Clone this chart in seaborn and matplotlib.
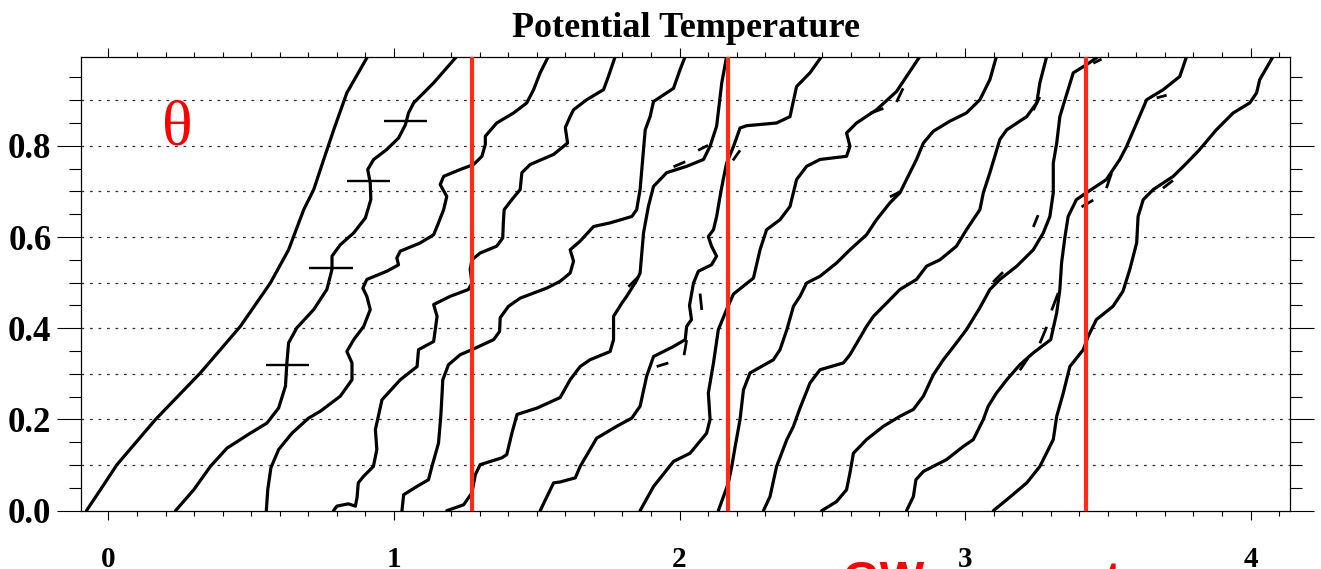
import matplotlib
matplotlib.use("Agg")
import matplotlib.pyplot as plt
import numpy as np
import pandas as pd
import seaborn as sns
from matplotlib.ticker import FixedLocator, MultipleLocator, FormatStrFormatter

# Potential temperature profiles, each as (theta offset, height) pairs
profile_01 = [(-0.077, 0.0), (-0.029, 0.045), (0.030, 0.101), (0.165, 0.200), (0.245, 0.252),
              (0.322, 0.302), (0.462, 0.404), (0.567, 0.499), (0.631, 0.572), (0.684, 0.660),
              (0.719, 0.704), (0.754, 0.770), (0.789, 0.835), (0.835, 0.916), (0.908, 0.996)]
profile_02 = [(0.235, 0.0), (0.299, 0.046), (0.357, 0.097), (0.415, 0.137), (0.497, 0.170),
              (0.555, 0.192), (0.596, 0.225), (0.620, 0.273), (0.625, 0.324), (0.631, 0.368),
              (0.660, 0.401), (0.719, 0.441), (0.765, 0.485), (0.783, 0.529), (0.783, 0.558),
              (0.812, 0.583), (0.859, 0.609), (0.900, 0.642), (0.919, 0.682), (0.917, 0.719),
              (0.908, 0.748), (0.929, 0.770), (0.975, 0.792), (1.016, 0.817), (1.040, 0.846),
              (1.051, 0.872), (1.069, 0.894), (1.139, 0.938), (1.220, 0.996)]
profile_03 = [(0.553, 0.0), (0.558, 0.046), (0.569, 0.094), (0.596, 0.134), (0.643, 0.170),
              (0.701, 0.203), (0.742, 0.218), (0.812, 0.251), (0.853, 0.287), (0.853, 0.324),
              (0.835, 0.349), (0.859, 0.375), (0.894, 0.404), (0.917, 0.441), (0.905, 0.470),
              (0.891, 0.488), (0.905, 0.507), (0.975, 0.525), (1.016, 0.539), (1.010, 0.554),
              (1.022, 0.569), (1.092, 0.587), (1.139, 0.605), (1.156, 0.631), (1.174, 0.660),
              (1.185, 0.689), (1.162, 0.715), (1.174, 0.733), (1.232, 0.748), (1.279, 0.759),
              (1.308, 0.777), (1.320, 0.803), (1.320, 0.821), (1.360, 0.850), (1.419, 0.872),
              (1.465, 0.894), (1.489, 0.923), (1.512, 0.960), (1.541, 0.996)]
profile_04 = [(0.788, 0.0), (0.800, 0.010), (0.840, 0.015), (0.865, 0.010), (0.871, 0.030),
              (0.875, 0.061), (0.893, 0.075), (0.928, 0.097), (0.940, 0.134), (0.935, 0.178),
              (0.958, 0.243), (1.022, 0.287), (1.081, 0.316), (1.086, 0.353), (1.139, 0.371),
              (1.151, 0.426), (1.139, 0.452), (1.197, 0.470), (1.261, 0.485), (1.273, 0.499),
              (1.267, 0.529), (1.273, 0.550), (1.302, 0.565), (1.360, 0.580), (1.381, 0.598),
              (1.383, 0.631), (1.386, 0.660), (1.413, 0.682), (1.442, 0.704), (1.448, 0.741),
              (1.477, 0.759), (1.559, 0.781), (1.608, 0.806), (1.600, 0.840), (1.617, 0.864),
              (1.629, 0.879), (1.675, 0.901), (1.734, 0.923), (1.751, 0.952), (1.775, 0.996)]
profile_05 = [(1.028, 0.0), (1.034, 0.035), (1.080, 0.053), (1.121, 0.068), (1.133, 0.097),
              (1.156, 0.148), (1.164, 0.207), (1.168, 0.251), (1.171, 0.287), (1.191, 0.320),
              (1.232, 0.342), (1.273, 0.353), (1.349, 0.375), (1.370, 0.393), (1.372, 0.423),
              (1.401, 0.448), (1.442, 0.466), (1.535, 0.488), (1.582, 0.503), (1.617, 0.521),
              (1.629, 0.547), (1.617, 0.572), (1.652, 0.591), (1.699, 0.623), (1.757, 0.631),
              (1.833, 0.645), (1.850, 0.660), (1.862, 0.704), (1.874, 0.792), (1.880, 0.835),
              (1.897, 0.864), (1.909, 0.897), (1.979, 0.926), (2.002, 0.967), (2.020, 0.996)]
profile_06 = [(1.185, 0.0), (1.244, 0.013), (1.273, 0.039), (1.285, 0.079), (1.302, 0.101),
              (1.378, 0.116), (1.395, 0.123), (1.413, 0.170), (1.431, 0.211), (1.501, 0.225),
              (1.582, 0.248), (1.617, 0.287), (1.652, 0.316), (1.687, 0.331), (1.757, 0.349),
              (1.769, 0.375), (1.769, 0.426), (1.798, 0.455), (1.815, 0.470), (1.850, 0.505),
              (1.862, 0.521), (1.874, 0.609), (1.891, 0.667), (1.909, 0.711), (1.955, 0.741),
              (2.025, 0.755), (2.084, 0.770), (2.107, 0.799), (2.130, 0.843), (2.148, 0.938),
              (2.165, 0.996)]
profile_07 = [(1.512, 0.0), (1.559, 0.061), (1.582, 0.063), (1.635, 0.072), (1.652, 0.097),
              (1.710, 0.159), (1.780, 0.185), (1.833, 0.203), (1.862, 0.229), (1.885, 0.295),
              (1.909, 0.338), (1.979, 0.360), (2.020, 0.375), (2.025, 0.404), (2.042, 0.419),
              (2.035, 0.450), (2.049, 0.499), (2.066, 0.525), (2.112, 0.539), (2.130, 0.558),
              (2.112, 0.580), (2.101, 0.601), (2.119, 0.616), (2.130, 0.645), (2.142, 0.689),
              (2.153, 0.726), (2.165, 0.762), (2.190, 0.800), (2.212, 0.839), (2.235, 0.844),
              (2.340, 0.850), (2.387, 0.864), (2.410, 0.930), (2.457, 0.960), (2.498, 0.996)]
profile_08 = [(1.862, 0.0), (1.909, 0.053), (1.979, 0.108), (2.037, 0.126), (2.095, 0.170),
              (2.107, 0.200), (2.101, 0.258), (2.119, 0.324), (2.136, 0.397), (2.165, 0.441),
              (2.189, 0.475), (2.259, 0.510), (2.282, 0.572), (2.305, 0.616), (2.352, 0.638),
              (2.387, 0.667), (2.410, 0.726), (2.445, 0.755), (2.492, 0.770), (2.585, 0.777),
              (2.597, 0.799), (2.585, 0.828), (2.620, 0.850), (2.690, 0.879), (2.760, 0.919),
              (2.795, 0.952), (2.842, 0.996)]
profile_09 = [(2.136, 0.0), (2.154, 0.031), (2.171, 0.061), (2.183, 0.097), (2.195, 0.141),
              (2.212, 0.200), (2.224, 0.265), (2.247, 0.302), (2.329, 0.331), (2.352, 0.353),
              (2.376, 0.397), (2.399, 0.448), (2.422, 0.470), (2.445, 0.499), (2.492, 0.514),
              (2.550, 0.543), (2.597, 0.572), (2.655, 0.605), (2.690, 0.638), (2.737, 0.675),
              (2.772, 0.697), (2.795, 0.726), (2.830, 0.770), (2.854, 0.806), (2.889, 0.832),
              (2.947, 0.854), (3.005, 0.872), (3.052, 0.901), (3.087, 0.945), (3.110, 0.996)]
profile_10 = [(2.294, 0.0), (2.317, 0.031), (2.340, 0.097), (2.376, 0.156), (2.399, 0.185),
              (2.422, 0.225), (2.457, 0.280), (2.492, 0.309), (2.574, 0.324), (2.597, 0.342),
              (2.655, 0.404), (2.679, 0.426), (2.725, 0.455), (2.772, 0.485), (2.830, 0.507),
              (2.865, 0.536), (2.912, 0.550), (2.970, 0.580), (3.005, 0.616), (3.052, 0.660),
              (3.064, 0.697), (3.087, 0.741), (3.122, 0.814), (3.146, 0.835), (3.216, 0.864),
              (3.251, 0.894), (3.262, 0.938), (3.286, 0.996)]
profile_11 = [(2.498, 0.0), (2.550, 0.020), (2.585, 0.046), (2.597, 0.083), (2.609, 0.126),
              (2.655, 0.156), (2.714, 0.185), (2.772, 0.207), (2.819, 0.222), (2.854, 0.251),
              (2.889, 0.298), (2.924, 0.331), (2.970, 0.368), (3.005, 0.397), (3.052, 0.445),
              (3.087, 0.485), (3.122, 0.507), (3.181, 0.536), (3.239, 0.572), (3.274, 0.609),
              (3.297, 0.645), (3.309, 0.697), (3.309, 0.762), (3.321, 0.806), (3.332, 0.864),
              (3.350, 0.901), (3.379, 0.960), (3.426, 0.978), (3.467, 0.996)]
profile_12 = [(2.795, 0.0), (2.819, 0.031), (2.828, 0.068), (2.854, 0.086), (2.935, 0.112),
              (2.994, 0.141), (3.029, 0.156), (3.064, 0.200), (3.081, 0.229), (3.110, 0.258),
              (3.146, 0.287), (3.192, 0.320), (3.239, 0.346), (3.300, 0.375), (3.321, 0.434),
              (3.332, 0.485), (3.338, 0.543), (3.350, 0.601), (3.361, 0.645), (3.390, 0.682),
              (3.425, 0.697), (3.495, 0.726), (3.542, 0.770), (3.566, 0.799), (3.601, 0.850),
              (3.636, 0.901), (3.694, 0.923), (3.752, 0.952), (3.776, 0.996)]
profile_13 = [(3.099, 0.0), (3.146, 0.024), (3.216, 0.061), (3.262, 0.097), (3.297, 0.141),
              (3.309, 0.156), (3.321, 0.207), (3.344, 0.258), (3.367, 0.316), (3.414, 0.353),
              (3.431, 0.382), (3.460, 0.419), (3.518, 0.448), (3.553, 0.481), (3.577, 0.529),
              (3.601, 0.587), (3.606, 0.645), (3.624, 0.682), (3.659, 0.704), (3.729, 0.733),
              (3.776, 0.762), (3.822, 0.792), (3.880, 0.835), (3.939, 0.872), (3.997, 0.894),
              (4.021, 0.916), (4.032, 0.945), (4.079, 0.996)]

# short pieces where the dashed companion run departs from the solid profile
dashed_pieces = [[(1.920, 0.316), (1.961, 0.324)], [(2.025, 0.374), (2.016, 0.341)],
                 [(2.078, 0.440), (2.072, 0.476)], [(1.821, 0.491), (1.856, 0.513)],
                 [(1.979, 0.754), (2.020, 0.765)], [(2.065, 0.790), (2.100, 0.801)],
                 [(2.187, 0.768), (2.212, 0.790)], [(2.737, 0.688), (2.772, 0.699)],
                 [(2.667, 0.871), (2.714, 0.882)], [(2.760, 0.896), (2.783, 0.926)],
                 [(3.239, 0.878), (3.262, 0.907)], [(3.239, 0.622), (3.256, 0.648)],
                 [(3.262, 0.367), (3.286, 0.403)], [(3.303, 0.439), (3.326, 0.477)],
                 [(3.098, 0.501), (3.133, 0.523)], [(3.192, 0.308), (3.220, 0.334)],
                 [(3.408, 0.666), (3.449, 0.681)], [(3.495, 0.707), (3.513, 0.740)],
                 [(3.693, 0.707), (3.728, 0.724)], [(3.671, 0.905), (3.706, 0.911)],
                 [(3.449, 0.981), (3.478, 0.990)]]

# horizontal bars on the second profile
bar_x = [0.627, 0.780, 0.910, 1.041]
bar_z = [0.319, 0.531, 0.723, 0.854]
bar_half_width = 0.076

# vertical reference lines
ref_x = [1.273, 2.169, 3.424]

# axis ticks and labels
x_ticks = [0, 1, 2, 3, 4]
y_ticks = [0.0, 0.2, 0.4, 0.6, 0.8]
grid_z = [0.1, 0.2, 0.3, 0.4, 0.5, 0.6, 0.7, 0.8, 0.9]
x_limits = (-0.096, 4.138)
y_limits = (0.0, 0.994)

title_text = "Potential Temperature"
symbol_text = "θ"
footer_text = "GW momentum"

# ---------------------------------------------------------------
sns.set_theme(style="ticks")
plt.rcParams["font.family"] = ["Liberation Serif", "DejaVu Serif"]
plt.rcParams["axes.edgecolor"] = "black"
plt.rcParams["xtick.color"] = "black"
plt.rcParams["ytick.color"] = "black"
plt.rcParams["text.color"] = "black"

W, H = 1321, 569
fig = plt.figure(figsize=(W / 100, H / 100), dpi=100)
fig.patch.set_facecolor("white")
left, right, top, bottom = 81, 1290, 57.3, 510.7
ax = fig.add_axes([left / W, (H - bottom) / H, (right - left) / W, (bottom - top) / H])
ax.set_facecolor("white")

profiles = [profile_01, profile_02, profile_03, profile_04, profile_05, profile_06, profile_07,
            profile_08, profile_09, profile_10, profile_11, profile_12, profile_13]
rows = []
for k, prof in enumerate(profiles):
    for order, (xv, zv) in enumerate(prof):
        rows.append({"profile": k, "order": order, "theta": xv, "z": zv})
df = pd.DataFrame(rows)

# dotted height grid
for gz in grid_z:
    ax.axhline(gz, color="#303030", lw=0.9, dashes=(2.2, 4.6), zorder=1)

sns.lineplot(data=df, x="theta", y="z", units="profile", estimator=None, sort=False,
             color="black", lw=2.3, ax=ax, legend=False, zorder=3)
for line in ax.get_lines():
    line.set_solid_joinstyle("round")
    line.set_solid_capstyle("round")

for piece in dashed_pieces:
    px = [p[0] for p in piece]
    pz = [p[1] for p in piece]
    ax.plot(px, pz, color="black", lw=2.0, solid_capstyle="butt", zorder=3)

ax.errorbar(bar_x, bar_z, xerr=bar_half_width, fmt="none", ecolor="black",
            elinewidth=1.7, capsize=0, zorder=4)

for rx in ref_x:
    ax.axvline(rx, color="#ff2b14", lw=3.0, zorder=5)

ax.set_xlim(*x_limits)
ax.set_ylim(*y_limits)
ax.set_xlabel("")
ax.set_ylabel("")

ax.xaxis.set_major_locator(FixedLocator(x_ticks))
ax.xaxis.set_minor_locator(MultipleLocator(0.1))
ax.yaxis.set_major_locator(FixedLocator(y_ticks))
ax.yaxis.set_minor_locator(MultipleLocator(0.05))
ax.xaxis.set_major_formatter(FormatStrFormatter("%d"))
ax.yaxis.set_major_formatter(FormatStrFormatter("%.1f"))

ax.tick_params(axis="x", which="major", direction="out", length=6.5, width=0.8,
               top=True, bottom=True, labeltop=False, pad=19)
ax.tick_params(axis="x", which="minor", direction="out", length=3.6, width=0.8,
               top=True, bottom=True)
ax.tick_params(axis="y", which="major", direction="out", length=17.3, width=0.8,
               left=True, right=True, labelright=False, pad=4)
ax.tick_params(axis="y", which="minor", direction="out", length=8.6, width=0.8,
               left=True, right=True)
for lab in ax.get_xticklabels():
    lab.set_fontsize(21)
    lab.set_fontweight("bold")
    lab.set_family(["Liberation Serif", "DejaVu Serif"])
for lab in ax.get_yticklabels():
    lab.set_fontsize(25)
    lab.set_fontweight("bold")
    lab.set_family(["Liberation Serif", "DejaVu Serif"])

for sp in ax.spines.values():
    sp.set_visible(True)
    sp.set_color("black")
    sp.set_linewidth(0.9)

ax.text(0.241, 0.835, symbol_text, color="red", fontsize=46, ha="center", va="center",
        family=["Liberation Serif", "DejaVu Serif"], zorder=6)

fig.text(685.5 / W, 1 - 37 / H, title_text, ha="center", va="baseline", fontsize=26,
         fontweight="bold", family=["Liberation Serif", "DejaVu Serif"])

fig.text(843 / W, 1 - 594 / H, footer_text, ha="left", va="baseline", fontsize=34,
         fontweight="bold", color="red", family=["Liberation Sans", "DejaVu Sans"])

fig.savefig("out.png", dpi=100, facecolor="white")
